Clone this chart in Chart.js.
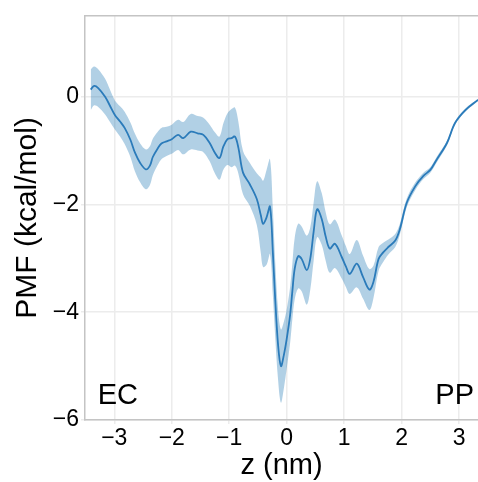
<!DOCTYPE html>
<html>
<head>
<meta charset="utf-8">
<script src="https://cdn.jsdelivr.net/npm/chart.js@4"></script>
<style>
  html, body { margin: 0; padding: 0; background: #fff; }
  canvas { display: block; }
</style>
</head>
<body>
<canvas id="pmfChart" width="478" height="482"></canvas>
<script>
// PMF profile along z, with its uncertainty (kcal/mol)
const zValues = [
  -3.41, -3.35, -3.28, -3.16, -3.08, -2.99, -2.90, -2.82, -2.72, -2.64,
  -2.55, -2.45, -2.38, -2.33, -2.25, -2.18, -2.09, -2.00, -1.89, -1.80,
  -1.67, -1.55, -1.45, -1.34, -1.25, -1.17, -1.10, -1.03, -0.96, -0.90,
  -0.84, -0.76, -0.64, -0.52, -0.45, -0.41, -0.35, -0.29, -0.24, -0.20,
  -0.15, -0.10, -0.05, 0.00, 0.06, 0.10, 0.14, 0.20, 0.26, 0.35,
  0.41, 0.47, 0.53, 0.61, 0.68, 0.75, 0.84, 0.96, 1.03, 1.10,
  1.22, 1.33, 1.44, 1.51, 1.60, 1.68, 1.77, 1.89, 1.97, 2.09,
  2.24, 2.38, 2.50, 2.61, 2.79, 2.93, 3.11, 3.33
];
const pmfValues = [
  0.13, 0.20, 0.16, 0.00, -0.16, -0.34, -0.46, -0.58, -0.80, -1.04,
  -1.23, -1.35, -1.28, -1.12, -0.97, -0.87, -0.83, -0.79, -0.71, -0.77,
  -0.65, -0.68, -0.71, -0.86, -1.04, -1.14, -0.92, -0.79, -0.77, -0.74,
  -0.95, -1.41, -1.63, -1.90, -2.20, -2.36, -2.24, -2.04, -2.90, -3.75,
  -4.60, -5.00, -4.80, -4.50, -4.05, -3.60, -3.19, -2.96, -3.01, -3.22,
  -3.01, -2.50, -2.09, -2.27, -2.60, -2.82, -2.73, -2.98, -3.15, -3.29,
  -3.10, -3.35, -3.58, -3.44, -3.01, -2.89, -2.79, -2.67, -2.46, -1.97,
  -1.66, -1.47, -1.36, -1.17, -0.86, -0.49, -0.25, -0.06
];
const pmfErrors = [
  0.38, 0.36, 0.35, 0.33, 0.30, 0.27, 0.28, 0.30, 0.32, 0.35,
  0.36, 0.37, 0.36, 0.34, 0.31, 0.29, 0.27, 0.27, 0.28, 0.30,
  0.33, 0.32, 0.32, 0.34, 0.38, 0.40, 0.43, 0.48, 0.54, 0.54,
  0.48, 0.40, 0.40, 0.48, 0.70, 0.80, 0.88, 0.88, 0.80, 0.70,
  0.65, 0.68, 0.62, 0.55, 0.52, 0.52, 0.57, 0.60, 0.60, 0.64,
  0.58, 0.54, 0.52, 0.48, 0.45, 0.45, 0.45, 0.40, 0.38, 0.37,
  0.44, 0.40, 0.38, 0.30, 0.22, 0.18, 0.14, 0.12, 0.10, 0.08,
  0.07, 0.06, 0.05, 0.05, 0.04, 0.03, 0.03, 0.02
];
const xTicks = [-3, -2, -1, 0, 1, 2, 3];
const yTicks = [-6, -4, -2, 0];
const regionLabels = ['EC', 'PP'];

const lineColor = '#2b7bba';
const bandColor = 'rgba(31, 119, 180, 0.35)';
const edgeColor = '#c4c4c4';
const gridColor = '#ececec';
const fontFamily = '"Liberation Sans", Arial, Helvetica, sans-serif';

const toPoints = (vals) => zValues.map((z, i) => ({ x: z, y: vals[i] }));
const upper = pmfValues.map((v, i) => v + pmfErrors[i]);
const lower = pmfValues.map((v, i) => v - pmfErrors[i]);
const minusLabel = (v) => (v < 0 ? '\u2212' + Math.abs(v) : String(v));

// top frame line plus the EC / PP region labels
const framePlugin = {
  id: 'frame',
  afterDraw(chart) {
    const { ctx, chartArea, scales } = chart;
    ctx.save();
    ctx.strokeStyle = edgeColor;
    ctx.lineWidth = 1.5;
    ctx.beginPath();
    ctx.moveTo(chartArea.left, chartArea.top);
    ctx.lineTo(chartArea.right, chartArea.top);
    ctx.stroke();

    ctx.fillStyle = '#000';
    ctx.font = '29px ' + fontFamily;
    ctx.textBaseline = 'alphabetic';
    const yPix = scales.y.getPixelForValue(-5.7);
    ctx.textAlign = 'left';
    ctx.fillText(regionLabels[0], scales.x.getPixelForValue(-3.29), yPix);
    ctx.textAlign = 'right';
    ctx.fillText(regionLabels[1], scales.x.getPixelForValue(3.26), yPix);
    ctx.restore();
  }
};

const ctx = document.getElementById('pmfChart').getContext('2d');
const chart = new Chart(ctx, {
  type: 'line',
  data: {
    datasets: [
      {
        label: 'PMF',
        data: toPoints(pmfValues),
        borderColor: lineColor,
        borderWidth: 1.8,
        pointRadius: 0,
        fill: false,
        tension: 0.35
      },
      {
        label: 'upper',
        data: toPoints(upper),
        borderWidth: 0,
        pointRadius: 0,
        backgroundColor: bandColor,
        fill: '+1',
        tension: 0.35
      },
      {
        label: 'lower',
        data: toPoints(lower),
        borderWidth: 0,
        pointRadius: 0,
        fill: false,
        tension: 0.35
      }
    ]
  },
  options: {
    responsive: false,
    animation: false,
    layout: { padding: { top: 12, right: 0, left: 0, bottom: 0 } },
    plugins: {
      legend: { display: false },
      tooltip: { enabled: false }
    },
    scales: {
      x: {
        type: 'linear',
        min: -3.51,
        max: 3.33,
        afterFit(scale) { scale.height = 62; },
        afterBuildTicks(scale) { scale.ticks = xTicks.map(v => ({ value: v })); },
        grid: { color: gridColor, lineWidth: 1.5, tickLength: 4 },
        border: { color: edgeColor, width: 1.5 },
        ticks: {
          color: '#000',
          padding: 1,
          maxRotation: 0,
          font: { family: fontFamily, size: 23 },
          callback: minusLabel
        },
        title: {
          display: true,
          text: 'z (nm)',
          color: '#000',
          padding: { top: 0, bottom: 0 },
          font: { family: fontFamily, size: 29, lineHeight: 1.1 }
        }
      },
      y: {
        min: -6,
        max: 1.5,
        afterFit(scale) { scale.width = 85; },
        afterBuildTicks(scale) { scale.ticks = yTicks.map(v => ({ value: v })); },
        grid: { color: gridColor, lineWidth: 1.5, tickLength: 4 },
        border: { color: edgeColor, width: 1.5 },
        ticks: {
          color: '#000',
          padding: 2,
          font: { family: fontFamily, size: 23 },
          callback: minusLabel
        },
        title: {
          display: true,
          text: 'PMF (kcal/mol)',
          color: '#000',
          padding: { top: 11, bottom: 0 },
          font: { family: fontFamily, size: 30, lineHeight: 1.1 }
        }
      }
    }
  },
  plugins: [framePlugin]
});
</script>
</body>
</html>
